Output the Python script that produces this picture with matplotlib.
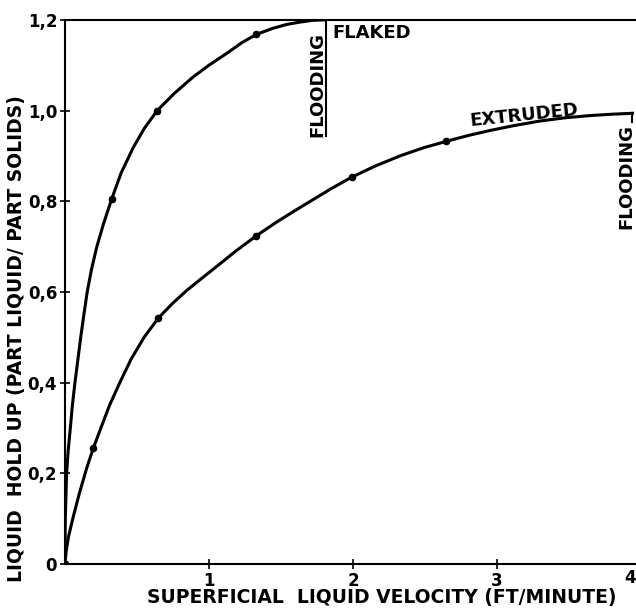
import matplotlib.pyplot as plt

# curves (x = ft/minute, y = hold up)
flaked_x = [0, 0.003, 0.012, 0.023, 0.038, 0.052, 0.07, 0.09, 0.11, 0.132, 0.155, 0.185, 0.222, 0.268, 0.324,
            0.39, 0.474, 0.55, 0.641, 0.76, 0.89, 1.0, 1.123, 1.23, 1.33, 1.44, 1.54, 1.63, 1.72, 1.8]
flaked_y = [0, 0.1, 0.2, 0.25, 0.3, 0.35, 0.4, 0.45, 0.5, 0.55, 0.6, 0.65, 0.7, 0.75, 0.804,
            0.862, 0.918, 0.96, 1.0, 1.038, 1.074, 1.1, 1.126, 1.15, 1.168, 1.181, 1.19, 1.195, 1.199, 1.2]
flaked_pts_x = [0, 0.324, 0.641, 1.33]
flaked_pts_y = [0, 0.804, 1.0, 1.168]

extruded_x = [0, 0.01, 0.025, 0.058, 0.1, 0.15, 0.197, 0.25, 0.31, 0.38, 0.46, 0.55, 0.648, 0.745, 0.845,
              0.95, 1.053, 1.19, 1.33, 1.46, 1.585, 1.72, 1.85, 1.99, 2.15, 2.326, 2.49, 2.646, 2.8, 2.95,
              3.12, 3.30, 3.47, 3.646, 3.8, 3.94]
extruded_y = [0, 0.03, 0.06, 0.104, 0.155, 0.21, 0.255, 0.3, 0.35, 0.399, 0.452, 0.5, 0.542, 0.574, 0.603,
              0.63, 0.656, 0.691, 0.724, 0.752, 0.777, 0.803, 0.828, 0.853, 0.877, 0.9, 0.918, 0.932, 0.945, 0.956,
              0.967, 0.977, 0.984, 0.989, 0.992, 0.994]
extruded_pts_x = [0, 0.197, 0.648, 1.33, 1.99, 2.646]
extruded_pts_y = [0, 0.255, 0.542, 0.724, 0.853, 0.932]

flaked_flood = 1.81
extruded_flood = 3.94

xticks = [1, 2, 3]
yticks = [0, 0.2, 0.4, 0.6, 0.8, 1.0, 1.2]
ytick_labels = ['0', '0,2', '0,4', '0,6', '0,8', '1,0', '1,2']

fig = plt.figure(figsize=(6.36, 6.10), dpi=100)
ax = fig.add_axes([0.102, 0.0754, 0.898, 0.892])

ax.plot(flaked_x, flaked_y, 'k-', lw=2.2, solid_joinstyle='round')
ax.plot(flaked_pts_x, flaked_pts_y, 'ko', ms=4.5)
ax.plot(extruded_x, extruded_y, 'k-', lw=2.2, solid_joinstyle='round')
ax.plot(extruded_pts_x, extruded_pts_y, 'ko', ms=4.5)

# flooding markers
ax.plot([flaked_flood, flaked_flood], [0.945, 1.2], 'k-', lw=1.5)
ax.plot([extruded_flood, extruded_flood], [0.974, 0.994], 'k-', lw=1.5)

ax.set_xlim(0, 3.965)
ax.set_ylim(0, 1.2)
ax.spines['right'].set_visible(False)
for s in ['left', 'bottom', 'top']:
    ax.spines[s].set_linewidth(1.5)

tick_font = dict(family=['Liberation Sans Narrow', 'DejaVu Sans'], weight='bold', size=12)
ax.set_xticks(xticks)
ax.set_xticklabels([str(t) for t in xticks], **tick_font)
ax.set_yticks(yticks)
ax.set_yticklabels(ytick_labels, **tick_font)
ax.tick_params(direction='inout', length=7, width=1.2, pad=2)
ax.text(3.962, -0.012, '4', ha='right', va='top', clip_on=False, **tick_font)

lab_font = dict(family='DejaVu Sans', weight='bold', size=13.5)
ax.set_xlabel('SUPERFICIAL  LIQUID VELOCITY (FT/MINUTE)', **lab_font)
ax.xaxis.set_label_coords(0.555, -0.045)
ax.set_ylabel('LIQUID  HOLD UP (PART LIQUID/ PART SOLIDS)', **lab_font)
ax.yaxis.set_label_coords(-0.068, 0.415)

txt = dict(family='DejaVu Sans', weight='bold', size=13)
ax.text(1.86, 1.192, 'FLAKED', ha='left', va='top', **txt)
ax.text(1.75, 1.057, 'FLOODING', rotation=90, ha='center', va='center', **txt)
ax.text(3.19, 0.99, 'EXTRUDED', rotation=6, ha='center', va='center', **txt)
ax.text(3.9, 0.855, 'FLOODING', rotation=90, ha='center', va='center', **txt)

fig.savefig('out.png', dpi=100)
